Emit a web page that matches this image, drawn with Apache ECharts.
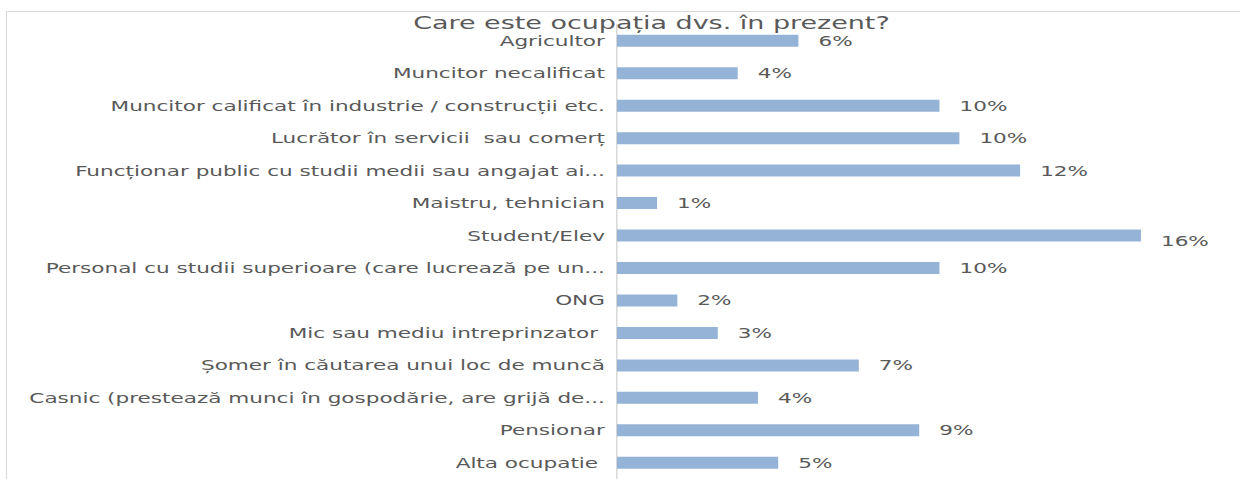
<!DOCTYPE html>
<html><head><meta charset="utf-8">
<script src="https://cdn.jsdelivr.net/npm/echarts@6/dist/echarts.min.js"></script>
<style>
html,body{margin:0;padding:0;background:#fff;overflow:hidden;width:1240px;height:479px}
/* the reference is a horizontally stretched chart image: draw narrower, stretch by CSS */
#c{width:805px;height:479px;transform:scaleX(1.54);transform-origin:0 0}
</style>
</head><body><div id="c"></div>
<script>
const titleText = 'Care este ocupația dvs. în prezent?';
const categories = [
  'Agricultor',
  'Muncitor necalificat',
  'Muncitor calificat în industrie / construcții etc.',
  'Lucrător în servicii  sau comerț',
  'Funcționar public cu studii medii sau angajat ai...',
  'Maistru, tehnician',
  'Student/Elev',
  'Personal cu studii superioare (care lucrează pe un...',
  'ONG',
  'Mic sau mediu intreprinzator ',
  'Șomer în căutarea unui loc de muncă',
  'Casnic (prestează munci în gospodărie, are grijă de...',
  'Pensionar',
  'Alta ocupatie '
];
const values = [5.56, 3.70, 9.88, 10.49, 12.35, 1.23, 16.05, 9.88, 1.85, 3.09, 7.41, 4.32, 9.26, 4.94];

const FONT = 'DejaVu Sans';
const chart = echarts.init(document.getElementById('c'), null, {renderer: 'svg'});
chart.setOption({
  backgroundColor: '#ffffff',
  animation: false,
  title: {
    text: titleText, left: 418, top: 9, textAlign: 'center',
    textStyle: {fontFamily: FONT, fontSize: 17.5, fontWeight: 'normal', color: '#595959'}
  },
  graphic: [
    {type: 'line', shape: {x1: 4, y1: 11.5, x2: 806, y2: 11.5}, style: {stroke: '#d9d9d9', lineWidth: 1}, z: -1},
    {type: 'line', shape: {x1: 4.2, y1: 11, x2: 4.2, y2: 479}, style: {stroke: '#d9d9d9', lineWidth: 0.7}, z: -1}
  ],
  grid: {left: 400.6, top: 24.5, height: 461, width: 381.6},
  xAxis: {
    type: 'value', min: 0, max: 18, show: false
  },
  yAxis: {
    type: 'category', inverse: true, data: categories,
    axisLine: {show: true, lineStyle: {color: '#d9d9d9', width: 1}},
    axisTick: {show: false},
    axisLabel: {fontFamily: FONT, fontSize: 14, color: '#595959', margin: 7.8}
  },
  series: [{
    type: 'bar',
    data: values.map((v, i) => categories[i] === 'Student/Elev'
      ? {value: v, label: {offset: [0, 5]}} : v),
    barWidth: 12,
    itemStyle: {color: '#95b3d7'},
    label: {
      show: true, position: 'right', distance: 13,
      fontFamily: FONT, fontSize: 14, color: '#595959',
      formatter: p => Math.round(p.value) + '%'
    }
  }]
});
</script></body></html>
